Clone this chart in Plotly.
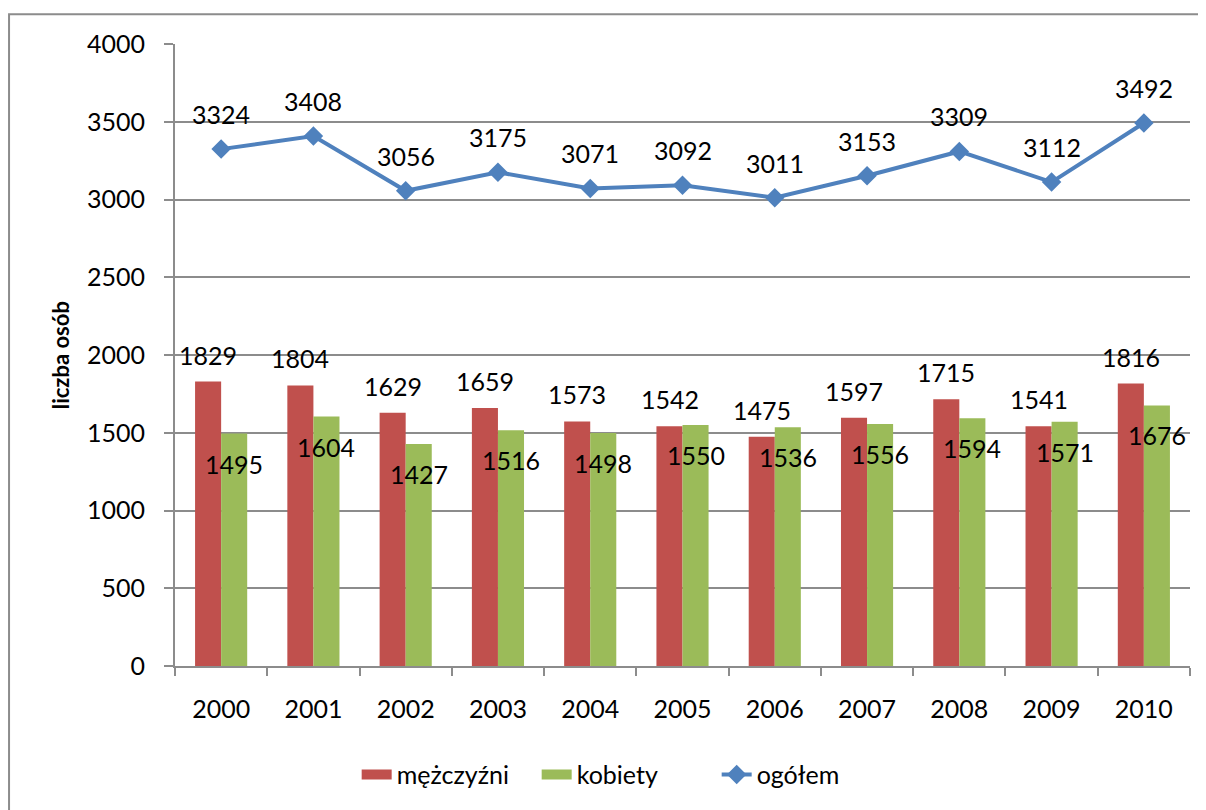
import plotly.graph_objects as go

years = ["2000", "2001", "2002", "2003", "2004", "2005", "2006", "2007", "2008", "2009", "2010"]
mezczyzni = [1829, 1804, 1629, 1659, 1573, 1542, 1475, 1597, 1715, 1541, 1816]
kobiety = [1495, 1604, 1427, 1516, 1498, 1550, 1536, 1556, 1594, 1571, 1676]
ogolem = [3324, 3408, 3056, 3175, 3071, 3092, 3011, 3153, 3309, 3112, 3492]

FONT = "Lato"
GRID = "#8c8c8c"
FS = 25
RED, GREEN, BLUE = "#C0504D", "#9BBB59", "#4F81BD"

fig = go.Figure()
fig.add_trace(go.Bar(x=years, y=mezczyzni, name="mężczyźni", marker=dict(color=RED, line=dict(width=0)),
                     showlegend=False))
fig.add_trace(go.Bar(x=years, y=kobiety, name="kobiety", marker=dict(color=GREEN, line=dict(width=0)),
                     showlegend=False))
fig.add_trace(go.Scatter(
    x=years, y=ogolem, name="ogółem", mode="lines+markers",
    line=dict(color=BLUE, width=4),
    marker=dict(symbol="diamond", size=15, color=BLUE),
    showlegend=False,
))

# legend entries: wide flat swatches like Excel
fig.add_trace(go.Scatter(x=[None], y=[None], mode="lines", name="mężczyźni", line=dict(color=RED, width=14)))
fig.add_trace(go.Scatter(x=[None], y=[None], mode="lines", name="kobiety", line=dict(color=GREEN, width=14)))
fig.add_trace(go.Scatter(x=[None], y=[None], mode="lines+markers", name="ogółem",
                         line=dict(color=BLUE, width=4), marker=dict(symbol="diamond", size=15, color=BLUE)))

# data labels, placed like the Excel original (x given as category index)
for i, (m, k, o) in enumerate(zip(mezczyzni, kobiety, ogolem)):
    fig.add_annotation(x=i, y=m, text=str(m), showarrow=False, xshift=-13, yshift=27)
    fig.add_annotation(x=i, y=k, text=str(k), showarrow=False, xshift=13, yshift=-30)
    fig.add_annotation(x=i, y=o, text=str(o), showarrow=False, yshift=35)

fig.add_annotation(
    text="<b>liczba osób</b>", xref="paper", yref="paper", x=-0.113, y=0.5,
    xanchor="center", yanchor="middle",
    textangle=-90, showarrow=False, font=dict(size=22),
)

# outer chart border
fig.add_shape(type="rect", xref="paper", yref="paper", x0=-0.1635, y0=-0.4, x1=1.2, y1=1.048,
              line=dict(color="#8c8c8c", width=2), fillcolor="rgba(0,0,0,0)", layer="below")

fig.update_layout(
    width=1198, height=802,
    margin=dict(l=167, r=16, t=36, b=144),
    paper_bgcolor="white", plot_bgcolor="white",
    font=dict(family=FONT, size=FS, color="black"),
    barmode="group", bargap=0.435, bargroupgap=0,
    showlegend=True,
    legend=dict(orientation="h", x=0.445, xanchor="center", y=-0.175, yanchor="middle",
                font=dict(size=FS), traceorder="normal",
                entrywidth=135, entrywidthmode="pixels"),
)
fig.update_xaxes(
    type="category", range=[-0.5, len(years) - 0.5],
    showline=True, linecolor=GRID, linewidth=2, ticks="outside", tickson="boundaries",
    ticklen=8, tickcolor=GRID, tickwidth=2, ticklabelstandoff=20, showgrid=False,
)
fig.update_yaxes(
    range=[0, 4000], dtick=500, showline=True, linecolor=GRID, linewidth=2,
    ticks="outside", ticklen=9, tickcolor=GRID, tickwidth=2, ticklabelstandoff=14,
    showgrid=True, gridcolor=GRID, gridwidth=2, zeroline=False,
)

fig.write_html("out.html", config={"displayModeBar": False})
